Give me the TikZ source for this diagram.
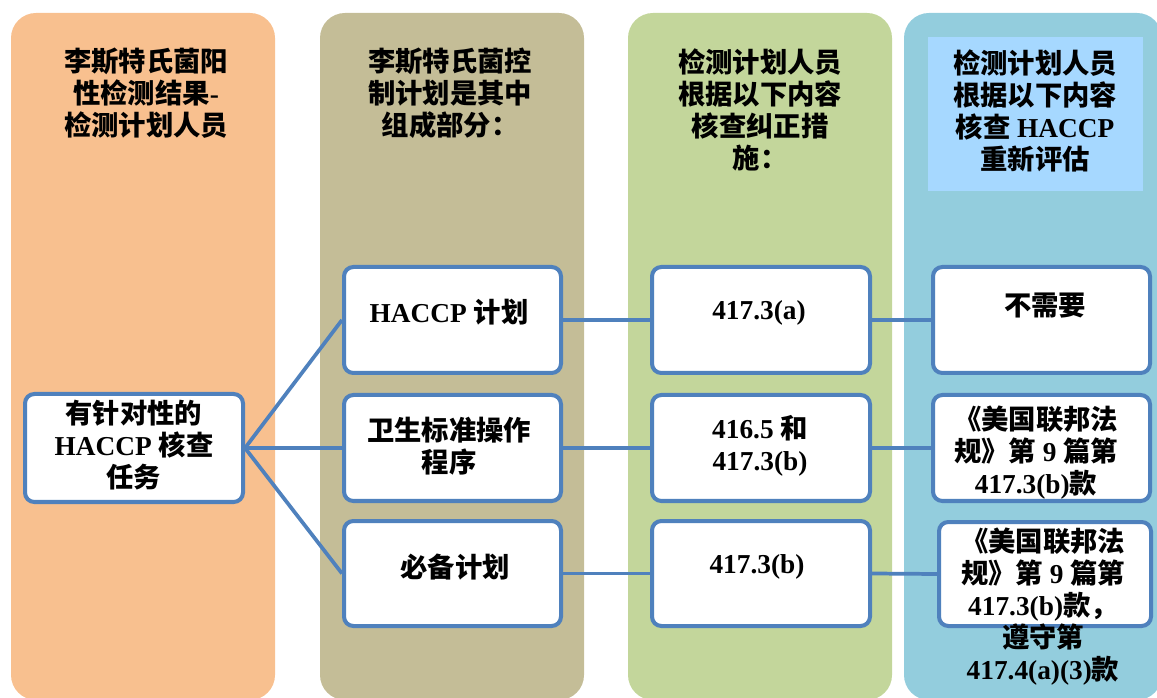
\documentclass[tikz,border=0pt]{standalone}
\usepackage{fontspec}
\setmainfont{Liberation Serif}
\newfontfamily\cjk{Noto Sans CJK SC}
\usetikzlibrary{fit}
\newcommand\zhtxt[1]{{\cjk #1}}
\definecolor{colorange}{HTML}{F8C08F}
\definecolor{coltan}{HTML}{C4BD97}
\definecolor{cololive}{HTML}{C3D69B}
\definecolor{colaqua}{HTML}{93CDDD}
\definecolor{colhead}{HTML}{A6D8FF}
\definecolor{boxblue}{HTML}{4F81BD}
\tikzset{
  column/.style={rounded corners=18.75pt},
  boxnode/.style={draw=boxblue, line width=3pt, fill=white, rounded corners=7pt, inner sep=0pt},
  conn/.style={draw=boxblue, line width=2.8pt},
  txt/.style={font=\bfseries\fontsize{20.5}{24}\selectfont, align=center, inner sep=0pt, text=black}
}
\begin{document}
\begin{tikzpicture}[x=0.75pt,y=-0.75pt]
\useasboundingbox (0,0) rectangle (1157,698);
% columns
\fill[colorange, column] (11,13) rectangle (275,700);
\fill[coltan, column] (320,13) rectangle (584,700);
\fill[cololive, column] (628,13) rectangle (892,700);
\fill[colaqua, column] (904,13) rectangle (1162,700);
\fill[colhead] (928,37) rectangle (1143,191);
% headers
\node[txt] (h1) at (146,93.5) {\zhtxt{李斯特氏菌阳}\\\zhtxt{性检测结果}-\\\zhtxt{检测计划人员}};
\node[txt] (h2) at (450,93.5) {\zhtxt{李斯特氏菌控}\\\zhtxt{制计划是其中}\\\zhtxt{组成部分：}};
\node[txt] (h3) at (760,109.5) {\zhtxt{检测计划人员}\\\zhtxt{根据以下内容}\\\zhtxt{核查纠正措}\\\zhtxt{施：}};
\node[txt] (h4) at (1035,111) {\zhtxt{检测计划人员}\\\zhtxt{根据以下内容}\\\zhtxt{核查} HACCP\\\zhtxt{重新评估}};
% boxes
\node[boxnode, fit={(25,394) (243,502)}] (L) {};
\node[boxnode, fit={(344,267) (561,373)}] (H) {};
\node[boxnode, fit={(344,395) (561,501)}] (S) {};
\node[boxnode, fit={(344,521) (561,626)}] (P) {};
\node[boxnode, fit={(652,267) (870,373)}] (A) {};
\node[boxnode, fit={(652,395) (870,501)}] (B) {};
\node[boxnode, fit={(652,521) (870,626)}] (C) {};
\node[boxnode, fit={(933,267) (1150,373)}] (N) {};
\node[boxnode, fit={(933,395) (1150,501)}] (F1) {};
\node[boxnode, fit={(939,522) (1151,626)}] (F2) {};
% connectors
\draw[conn] (L.east) -- (H.west);
\draw[conn] (L.east) -- (S.west);
\draw[conn] (L.east) -- (P.west);
\draw[conn] (H.east) -- (A.west);
\draw[conn] (S.east) -- (B.west);
\draw[conn] (P.east) -- (C.west);
\draw[conn] (A.east) -- (N.west);
\draw[conn] (B.east) -- (F1.west);
\draw[conn] (C.east) -- (F2.west);
% box texts
\node[txt] (tL) at (134,445) {\zhtxt{有针对性的}\\HACCP \zhtxt{核查}\\\zhtxt{任务}};
\node[txt] (tH) at (449,312) {HACCP \zhtxt{计划}};
\node[txt] (tS) at (449,446) {\zhtxt{卫生标准操作}\\\zhtxt{程序}};
\node[txt] (tP) at (455,567) {\zhtxt{必备计划}};
\node[txt] (tA) at (759,313) {417.3(a)};
\node[txt] (tB) at (760,446) {416.5 \zhtxt{和}\\417.3(b)};
\node[txt] (tC) at (757,567) {417.3(b)};
\node[txt] (tN) at (1045,306) {\zhtxt{不需要}};
\node[txt] (tF1) at (1036,453) {\zhtxt{《美国联邦法}\\\zhtxt{规》第} 9 \zhtxt{篇第}\\417.3(b)\zhtxt{款}};
\node[txt] (tF2) at (1043,607) {\zhtxt{《美国联邦法}\\\zhtxt{规》第} 9 \zhtxt{篇第}\\417.3(b)\zhtxt{款，}\\\zhtxt{遵守第}\\417.4(a)(3)\zhtxt{款}};
\end{tikzpicture}
\end{document}
